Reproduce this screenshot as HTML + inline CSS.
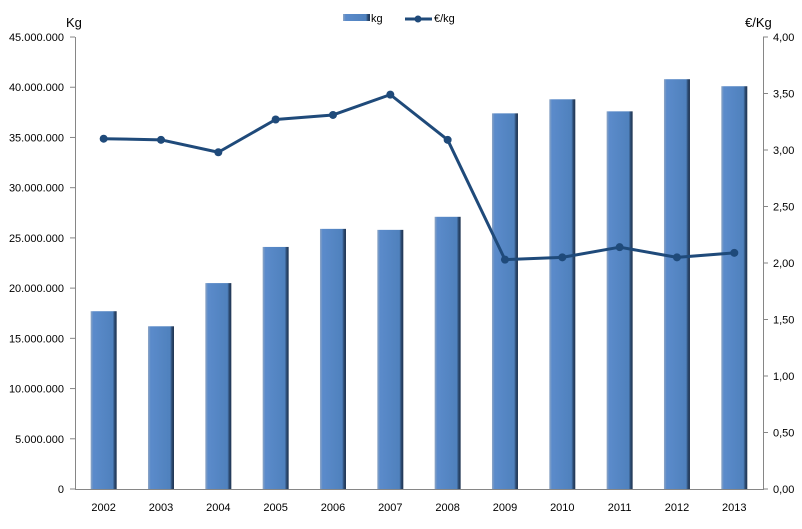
<!DOCTYPE html>
<html><head><meta charset="utf-8"><style>body{margin:0;background:#fff}svg{display:block;font-family:"Liberation Sans",sans-serif}</style></head><body>
<svg width="802" height="529" viewBox="0 0 802 529">
<defs><linearGradient id="b" x1="0" x2="1" y1="0" y2="0">
<stop offset="0" stop-color="#8fa6c4"/><stop offset="0.1" stop-color="#5b8bcb"/><stop offset="0.85" stop-color="#4f81bd"/><stop offset="0.92" stop-color="#2c4a70"/><stop offset="1" stop-color="#1f3350"/></linearGradient></defs>
<g id="bars"></g>
<g stroke="#868686" stroke-width="1">
<line x1="75.5" y1="37" x2="75.5" y2="489"/>
<line x1="763.5" y1="37" x2="763.5" y2="489"/>
<line x1="75" y1="489.5" x2="764" y2="489.5"/>
</g>
<g id="g"></g>
<text x="66" y="27" font-size="13">Kg</text>
<text x="745" y="27" font-size="13">€/Kg</text>
<rect x="343" y="14" width="27" height="7" fill="url(#b)"/>
<text x="371" y="22" font-size="11">kg</text>
<line x1="405" y1="19" x2="432" y2="19" stroke="#1f4a7a" stroke-width="3"/><circle cx="418" cy="19" r="3.5" fill="#1f4a7a"/>
<text x="434" y="22" font-size="11">€/kg</text>
</svg>
<script>
const ns="http://www.w3.org/2000/svg";
const g=document.getElementById('g'),bars=document.getElementById('bars');
function el(p,t,a,txt){const e=document.createElementNS(ns,t);for(const k in a)e.setAttribute(k,a[k]);if(txt!==undefined)e.textContent=txt;p.appendChild(e);return e;}
const L=["0","5.000.000","10.000.000","15.000.000","20.000.000","25.000.000","30.000.000","35.000.000","40.000.000","45.000.000"];
for(let i=0;i<10;i++){const y=489-i*50.22;el(g,'line',{x1:70,x2:75,y1:y,y2:y,stroke:'#868686'});el(g,'text',{x:64,y:y+4,'font-size':11,'text-anchor':'end'},L[i]);}
const R=["0,00","0,50","1,00","1,50","2,00","2,50","3,00","3,50","4,00"];
for(let i=0;i<9;i++){const y=489-i*56.5;el(g,'line',{x1:763,x2:768,y1:y,y2:y,stroke:'#868686'});el(g,'text',{x:773,y:y+4,'font-size':11},R[i]);}
const kg=[17.7,16.2,20.5,24.1,25.9,25.8,27.1,37.4,38.8,37.6,40.8,40.1];
const pr=[3.10,3.09,2.98,3.27,3.31,3.49,3.09,2.03,2.05,2.14,2.05,2.09];
const pts=[];
for(let i=0;i<12;i++){const cx=75+57.33*(i+0.5);const y=489-kg[i]*10.044;
el(bars,'rect',{x:cx-13,y:y,width:26,height:489-y,fill:'url(#b)'});
el(g,'text',{x:cx,y:511,'font-size':11,'text-anchor':'middle'},String(2002+i));
pts.push([cx,489-pr[i]*113]);}
el(g,'polyline',{points:pts.map(p=>p.join(',')).join(' '),fill:'none',stroke:'#1f4a7a','stroke-width':3,'stroke-linejoin':'round'});
pts.forEach(p=>el(g,'circle',{cx:p[0],cy:p[1],r:4,fill:'#1f4a7a'}));
</script>
</body></html>
